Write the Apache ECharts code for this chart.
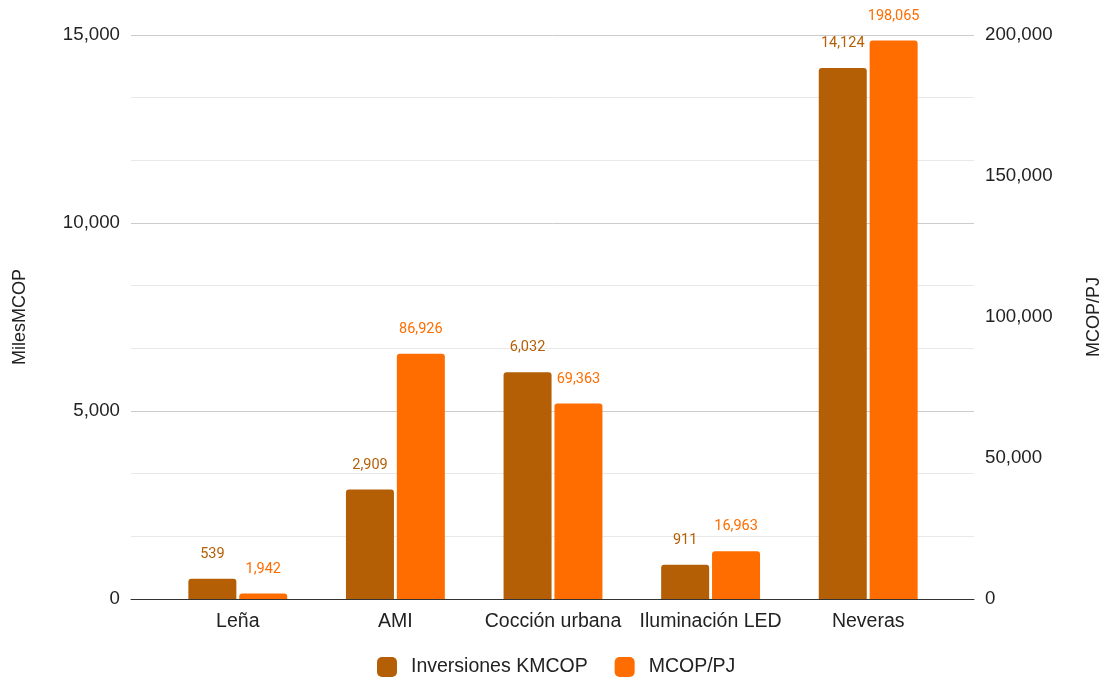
<!DOCTYPE html>
<html>
<head>
<meta charset="utf-8">
<script src="https://cdn.jsdelivr.net/npm/echarts@6/dist/echarts.min.js"></script>
<style>
html,body{margin:0;padding:0;background:#fff;}
#chart{width:1110px;height:681px;}
</style>
</head>
<body>
<div id="chart"></div>
<script>
const categories = ['Leña', 'AMI', 'Cocción urbana', 'Iluminación LED', 'Neveras'];
const inversiones = [539, 2909, 6032, 911, 14124];
const mcopPj = [1942, 86926, 69363, 16963, 198065];
const leftTicks = { min: 0, max: 15000, interval: 5000 };
const rightTicks = { min: 0, max: 200000, interval: 50000 };

const BROWN = '#b45f06';
const ORANGE = '#ff6d01';
const AXISFONT = '"Liberation Sans", Arial, sans-serif';
const fmt = v => Number(v).toLocaleString('en-US');

const chart = echarts.init(document.getElementById('chart'), null, { renderer: 'canvas' });
chart.setOption({
  animation: false,
  backgroundColor: '#fff',
  grid: [
    { left: 131, right: 136, top: 35, height: 564, containLabel: false, outerBoundsMode: 'none' },
    { left: 159, right: 163, top: 35, height: 564, containLabel: false, outerBoundsMode: 'none' }
  ],
  legend: {
    left: 377, top: 657, padding: 0,
    itemWidth: 20, itemHeight: 20, itemGap: 27,
    icon: 'roundRect',
    itemStyle: { borderRadius: 2 },
    textStyle: { fontFamily: AXISFONT, fontSize: 19.5, color: '#222', padding: [0, 0, 0, 9] },
    data: ['Inversiones KMCOP', 'MCOP/PJ']
  },
  xAxis: [
    { type: 'category', gridIndex: 0, data: categories,
      axisLine: { show: true, lineStyle: { color: '#333', width: 1 } },
      axisTick: { show: false }, axisLabel: { show: false }, splitLine: { show: false } },
    { type: 'category', gridIndex: 1, data: categories,
      axisLine: { show: false }, axisTick: { show: false },
      axisLabel: { interval: 0, fontFamily: AXISFONT, fontSize: 19.5, color: '#222', margin: 13 } }
  ],
  yAxis: [
    { type: 'value', gridIndex: 0, position: 'left', min: leftTicks.min, max: leftTicks.max, interval: leftTicks.interval,
      name: 'MilesMCOP', nameLocation: 'middle', nameRotate: 90, nameGap: 102,
      nameTextStyle: { fontFamily: AXISFONT, fontSize: 18, color: '#222' },
      axisLine: { show: false }, axisTick: { show: false },
      axisLabel: { fontFamily: AXISFONT, fontSize: 18.7, color: '#222', margin: 11, formatter: fmt },
      splitLine: { show: true, lineStyle: { color: '#cccccc', width: 1 } },
      minorTick: { show: false, splitNumber: 3 },
      minorSplitLine: { show: true, lineStyle: { color: '#e8e8e8', width: 1 } } },
    { type: 'value', gridIndex: 0, position: 'right', min: rightTicks.min, max: rightTicks.max, interval: rightTicks.interval,
      name: 'MCOP/PJ', nameLocation: 'middle', nameRotate: 90, nameGap: 111,
      nameTextStyle: { fontFamily: AXISFONT, fontSize: 18, color: '#222' },
      axisLine: { show: false }, axisTick: { show: false },
      axisLabel: { fontFamily: AXISFONT, fontSize: 18.7, color: '#222', margin: 11, formatter: fmt },
      splitLine: { show: false } },
    { type: 'value', gridIndex: 1, min: leftTicks.min, max: leftTicks.max, interval: leftTicks.interval,
      show: false, splitLine: { show: false } },
    { type: 'value', gridIndex: 1, min: rightTicks.min, max: rightTicks.max, interval: rightTicks.interval,
      show: false, splitLine: { show: false } }
  ],
  series: [
    { name: 'Inversiones KMCOP', type: 'bar', xAxisIndex: 1, yAxisIndex: 2, data: inversiones,
      barWidth: 48, barGap: '6%',
      itemStyle: { color: BROWN, borderRadius: [3, 3, 0, 0] },
      label: { show: true, position: 'top', distance: 17, color: BROWN, fontFamily: 'Roboto', fontSize: 14.5, formatter: p => fmt(p.value) } },
    { name: 'MCOP/PJ', type: 'bar', xAxisIndex: 1, yAxisIndex: 3, data: mcopPj,
      barWidth: 48, barGap: '6%',
      itemStyle: { color: ORANGE, borderRadius: [3, 3, 0, 0] },
      label: { show: true, position: 'top', distance: 17, color: ORANGE, fontFamily: 'Roboto', fontSize: 14.5, formatter: p => fmt(p.value) } }
  ]
});
</script>
</body>
</html>
